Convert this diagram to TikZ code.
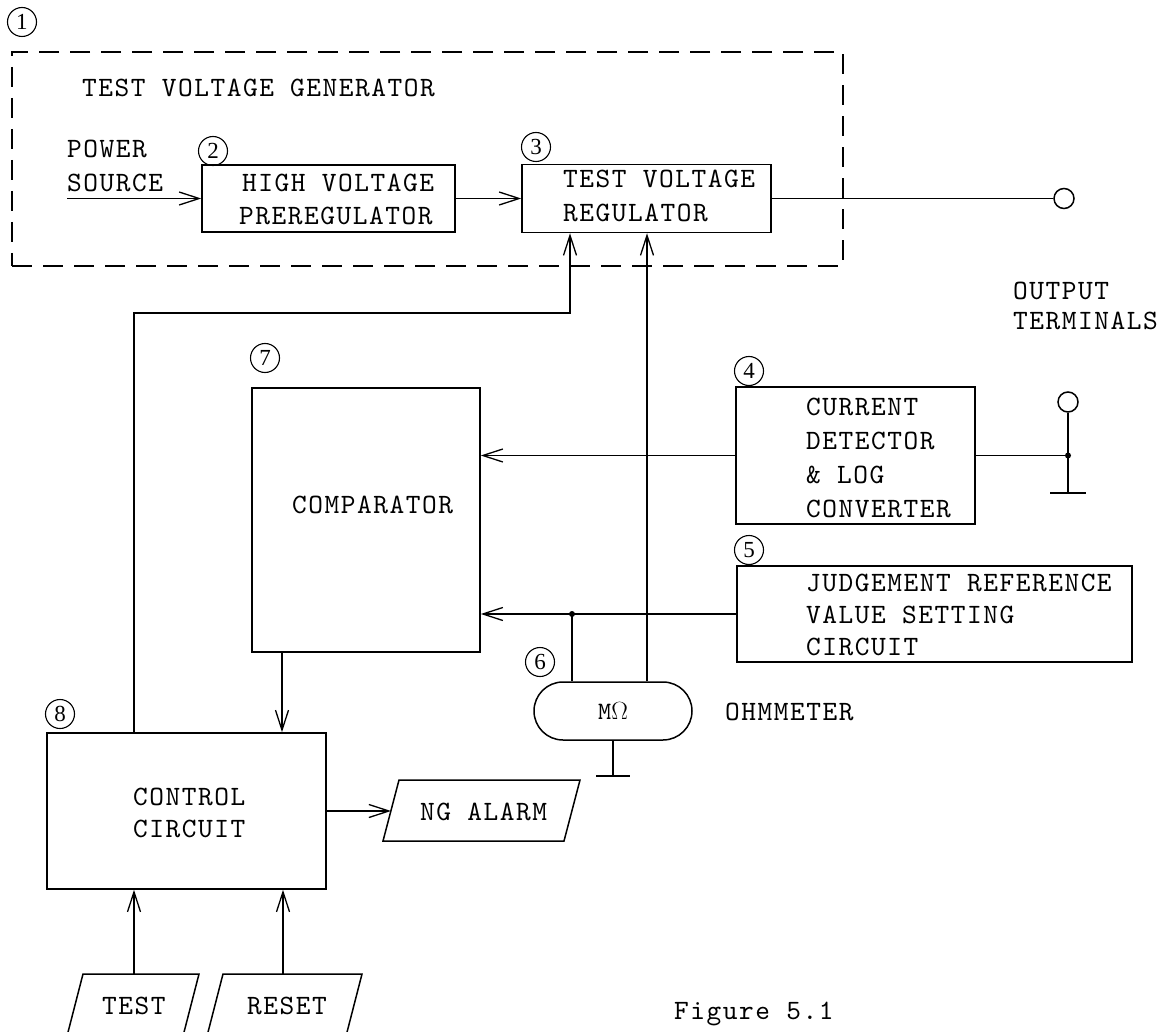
\documentclass[tikz,border=0pt]{standalone}
\usepackage{fontspec}
\setmainfont{Liberation Serif}
\newfontfamily\tw{lmmono10-regular.otf}[LetterSpace=5.5]
\usetikzlibrary{arrows.meta,shapes.misc}
\begin{document}
\begin{tikzpicture}[x=1pt,y=-1pt,
  ln/.style={line width=1.5pt},
  box/.style={draw, line width=1.5pt, rectangle, inner sep=0pt},
  arr/.style={line width=1.5pt, -{Straight Barb[length=20pt,width=13pt,line width=1.3pt]}},
  txt/.style={font=\tw\fontsize{28}{32}\selectfont, inner sep=0pt, anchor=base west},
  num/.style={circle, draw, line width=1.1pt, minimum size=29pt, inner sep=0pt, font=\fontsize{23}{23}\selectfont},
  term/.style={circle, draw, line width=1.5pt, minimum size=20pt, inner sep=0pt},
]
\clip (0,0) rectangle (1167,1032);
\fill[white] (0,0) rectangle (1167,1032);

% test voltage generator
\node[num] (n1) at (22,22) {1};
\node[draw, line width=1.5pt, dash pattern=on 20pt off 11pt, minimum width=831pt, minimum height=214pt, inner sep=0pt] (tvg) at (427.5,159) {};
\node[txt] (tvgl) at (82,97) {TEST VOLTAGE GENERATOR};
\node[txt] (ps1) at (67,158) {POWER};
\node[txt] (ps2) at (67,192) {SOURCE};
\coordinate (psin) at (67,198.5);
\node[box, minimum width=253pt, minimum height=67pt] (b2) at (328.5,198.5) {};
\node[num] (n2) at (213,151) {2};
\node[txt] (b2a) at (242,192) {HIGH VOLTAGE};
\node[txt] (b2b) at (239,225) {PREREGULATOR};
\node[box, minimum width=249pt, minimum height=68pt] (b3) at (646.5,198.5) {};
\node[num] (n3) at (536,147) {3};
\node[txt] (b3a) at (563,188) {TEST VOLTAGE};
\node[txt] (b3b) at (563,222) {REGULATOR};
\node[term] (t1) at (1064,198.5) {};
\node[txt] (o1) at (1013,300) {OUTPUT};
\node[txt] (o2) at (1013,330) {TERMINALS};
\draw[arr] (psin) -- (b2.west);
\draw[arr] (b2.east) -- (b3.west);
\draw[ln] (b3.east) -- (t1.west);

% comparator
\node[box, minimum width=228pt, minimum height=264pt] (c7) at (366,520) {};
\node[num] (n7) at (265,358) {7};
\node[txt] (c7l) at (292,513) {COMPARATOR};

% current detector
\node[box, minimum width=239pt, minimum height=137pt] (b4) at (855.5,455.5) {};
\node[num] (n4) at (749,371) {4};
\node[txt] (b4a) at (806,415) {CURRENT};
\node[txt] (b4b) at (806,449) {DETECTOR};
\node[txt] (b4c) at (806,483) {\& LOG};
\node[txt] (b4d) at (806,517) {CONVERTER};
\draw[arr] (b4.west) -- (b4.west -| c7.east);
\node[term] (t2) at (1068,402) {};
\coordinate (j2) at (1068,455.5);
\coordinate (g2) at (1068,493);
\draw[ln] (b4.east) -- (j2);
\draw[ln] (t2.south) -- (j2) -- (g2);
\draw[ln] ([xshift=-18pt]g2) -- ([xshift=18pt]g2);
\fill (j2) circle (3pt);

% judgement reference
\node[box, minimum width=395pt, minimum height=96pt] (b5) at (934.5,614) {};
\node[num] (n5) at (749,550) {5};
\node[txt] (b5a) at (806,591) {JUDGEMENT REFERENCE};
\node[txt] (b5b) at (806,623) {VALUE SETTING};
\node[txt] (b5c) at (806,655) {CIRCUIT};
\draw[arr] (b5.west) -- (b5.west -| c7.east);

% ohmmeter
\node[draw, rounded rectangle, line width=1.5pt, minimum width=158pt, minimum height=58pt, inner sep=0pt, font=\tw\fontsize{25}{25}\selectfont] (om) at (613,711) {M$\Omega$};
\node[num] (n6) at (540,662) {6};
\node[txt] (oml) at (725,720) {OHMMETER};
\coordinate (j1) at (572,614);
\fill (j1) circle (3pt);
\draw[ln] (j1) -- (j1 |- om.north);
\coordinate (k3) at (647,614);
\draw[arr] (k3 |- om.north) -- (k3 |- b3.south);
\coordinate (g1) at (613,776);
\draw[ln] (om.south) -- (g1);
\draw[ln] ([xshift=-17pt]g1) -- ([xshift=17pt]g1);

% control circuit
\node[box, minimum width=279pt, minimum height=156pt] (c8) at (186.5,811) {};
\node[num] (n8) at (60,714) {8};
\node[txt] (c8a) at (133,805) {CONTROL};
\node[txt] (c8b) at (133,837) {CIRCUIT};
\coordinate (k4) at (282,700);
\draw[arr] (k4 |- c7.south) -- (k4 |- c8.north);
\coordinate (k1) at (134,313);
\coordinate (k2) at (570,313);
\draw[arr] (k1 |- c8.north) -- (k1) -- (k2) -- (k2 |- b3.south);

% NG alarm
\draw[ln] (383,841) -- (399,780) -- (580,780) -- (564,841) -- cycle;
\node[txt] (ng) at (420,820) {NG ALARM};
\coordinate (ngin) at (391,811);
\draw[arr] (c8.east |- ngin) -- (ngin);

% test / reset
\draw[ln] (66,1040) -- (83,974) -- (199,974) -- (182,1040);
\node[txt] (testl) at (102,1014) {TEST};
\coordinate (testtop) at (134,974);
\draw[arr] (testtop) -- (testtop |- c8.south);
\draw[ln] (206,1040) -- (223,974) -- (362,974) -- (345,1040);
\node[txt] (resetl) at (247,1014) {RESET};
\coordinate (resettop) at (283,974);
\draw[arr] (resettop) -- (resettop |- c8.south);

\node[txt] (fig) at (674,1019) {Figure 5.1};
\end{tikzpicture}
\end{document}
